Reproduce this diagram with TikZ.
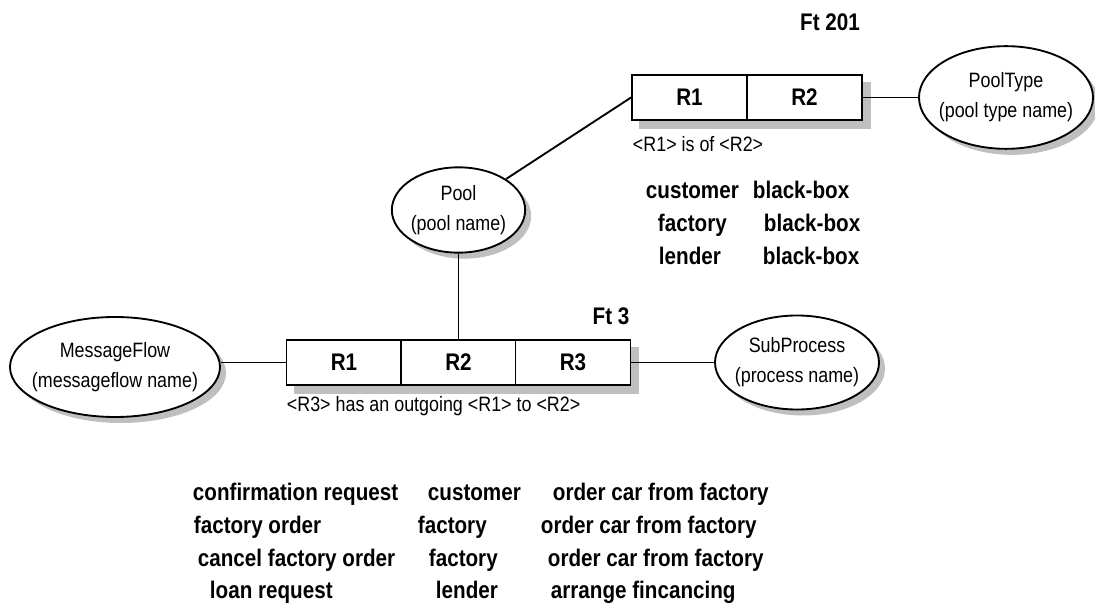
\documentclass[tikz,border=0pt]{standalone}
\usepackage{fontspec}
\setmainfont[FakeStretch=0.86]{Liberation Sans}
\usetikzlibrary{shapes.geometric,shadows,backgrounds}
\begin{document}
\begin{tikzpicture}[x=0.75pt,y=-0.75pt,
  line width=1.4pt,
  ent/.style={ellipse,draw,fill=white,inner sep=0pt,
    drop shadow={shadow xshift=4.5pt,shadow yshift=-4.5pt,fill=black!25,opacity=1}},
  enttext/.style={align=center,inner sep=0pt,font=\fontsize{15.6}{22.5}\selectfont},
  cellbox/.style={draw,fill=white,minimum width=86.25pt,minimum height=33.75pt,inner sep=0pt,
    font=\fontsize{18}{20}\selectfont\bfseries},
  lbl/.style={font=\fontsize{18}{20}\selectfont\bfseries,inner sep=0pt},
  captext/.style={font=\fontsize{15.6}{18}\selectfont,inner sep=0pt},
  shadowfill/.style={fill=black!25,draw=none}
]
\useasboundingbox (0,0) rectangle (1095,605);

% top fact type
\node[cellbox] (t1) at (689.5,97.5) {R1};
\node[cellbox] (t2) at (804.5,97.5) {R2};
\begin{scope}[on background layer]
  \fill[shadowfill] ([shift={(8,8)}]t1.north west) rectangle ([shift={(8,8)}]t2.south east);
\end{scope}
\node[lbl] (ft201) at (830,22) {Ft 201};
\node[captext,anchor=west] (cap1) at (632,144) {<R1> is of <R2>};

% main fact type
\node[cellbox] (c1) at (344,362.5) {R1};
\node[cellbox] (c2) at (458.5,362.5) {R2};
\node[cellbox] (c3) at (573,362.5) {R3};
\begin{scope}[on background layer]
  \fill[shadowfill] ([shift={(8,8)}]c1.north west) rectangle ([shift={(8,8)}]c3.south east);
\end{scope}
\node[lbl] (ft3) at (611,316) {Ft 3};
\node[captext,anchor=west] (cap3) at (286,406) {<R3> has an outgoing <R1> to <R2>};

% entities
\node[ent,minimum width=130.5pt,minimum height=77pt] (poolt) at (1006,97.5) {};
\node[enttext] (poolttx) at (poolt) {PoolType\\(pool type name)};
\node[ent,minimum width=100pt,minimum height=64pt] (pool) at (458.5,210) {};
\node[enttext] (pooltx) at (pool) {Pool\\(pool name)};
\node[ent,minimum width=157.5pt,minimum height=75pt] (mf) at (115,367) {};
\node[enttext] (mftx) at (mf) {MessageFlow\\(messageflow name)};
\node[ent,minimum width=123pt,minimum height=70.5pt] (sp) at (797,362.5) {};
\node[enttext] (sptx) at (sp) {SubProcess\\(process name)};

% connectors
\draw (pool) -- (t1.west);
\draw (t2.east) -- (poolt);
\draw (pool) -- (c2.north);
\draw (c1.west) -- (c1.west -| mf.east);
\draw (c3.east) -- (sp);

% population of Ft 201
\node[lbl,anchor=base west] (p1a) at (645,199) {customer};
\node[lbl,anchor=base west] (p1b) at (752,199) {black-box};
\node[lbl,anchor=base west] (p2a) at (657,232) {factory};
\node[lbl,anchor=base west] (p2b) at (763,232) {black-box};
\node[lbl,anchor=base west] (p3a) at (658,265) {lender};
\node[lbl,anchor=base west] (p3b) at (762,265) {black-box};

% population of Ft 3
\node[lbl,anchor=base west] (q1a) at (192,500) {confirmation request};
\node[lbl,anchor=base west] (q1b) at (427,500) {customer};
\node[lbl,anchor=base west] (q1c) at (552,500) {order car from factory};
\node[lbl,anchor=base west] (q2a) at (193,533) {factory order};
\node[lbl,anchor=base west] (q2b) at (417,533) {factory};
\node[lbl,anchor=base west] (q2c) at (540,533) {order car from factory};
\node[lbl,anchor=base west] (q3a) at (197,566) {cancel factory order};
\node[lbl,anchor=base west] (q3b) at (428,566) {factory};
\node[lbl,anchor=base west] (q3c) at (547,566) {order car from factory};
\node[lbl,anchor=base west] (q4a) at (209,598) {loan request};
\node[lbl,anchor=base west] (q4b) at (435,598) {lender};
\node[lbl,anchor=base west] (q4c) at (550,598) {arrange fincancing};
\end{tikzpicture}
\end{document}
